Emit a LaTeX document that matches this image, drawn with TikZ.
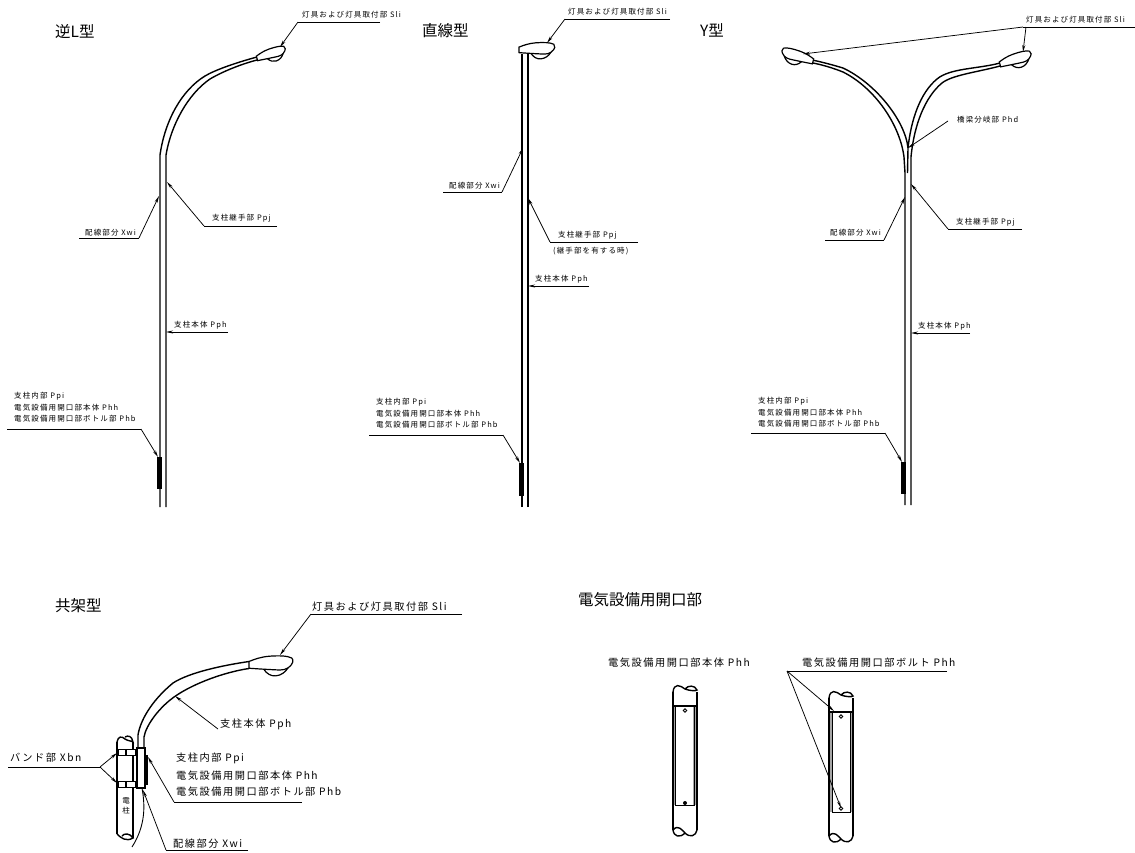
\documentclass[tikz,border=0pt]{standalone}
\usepackage{fontspec}
\usetikzlibrary{arrows.meta}
\setmainfont[LetterSpace=15]{Noto Sans CJK JP}
\newfontfamily\headfont{Noto Sans CJK JP}

\tikzset{
  pole/.style={line width=1.4pt,black},
  tagline/.style={line width=0.9pt,black},
  leader/.style={line width=0.75pt,black,-{Stealth[length=7pt,width=3pt]}},
  smalltag/.style={font=\fontsize{7.5}{7.5}\selectfont,inner sep=0pt,anchor=west},
  bigtag/.style={font=\fontsize{10.2}{10.2}\selectfont,inner sep=0pt,anchor=west},
  headtag/.style={font=\headfont\fontsize{15.5}{15.5}\selectfont,inner sep=0pt,anchor=west},
  lamp/.pic={
    \draw[pole,line width=1.2pt,fill=white] (0,-2.4) .. controls (4,-4) and (8,-5.5) .. (14,-6)
      .. controls (20,-6.4) and (26,-6.4) .. (29,-4.8)
      .. controls (30.5,-3.5) and (30.5,-1) .. (26.5,2)
      .. controls (25,3) and (23,3.4) .. (21,3.4)
      .. controls (15,3.2) and (6,2.6) .. (0,2.2) -- cycle;
    \draw[pole,line width=1.2pt] (10,2.8) .. controls (12,6) and (15,7.6) .. (18,7.4)
      .. controls (22,7.2) and (25,4.5) .. (26.5,2);
  }
}

\begin{document}
\begin{tikzpicture}[x=1pt,y=-1pt]
    \useasboundingbox (0,0) rectangle (1135,852);

    % Titles
    \node[headtag] (titleL) at (55,32) {逆L型};
    \node[headtag] (titleI) at (422,31) {直線型};
    \node[headtag] (titleY) at (700,30) {Y型};
    \node[headtag] (titleK) at (55,606) {共架型};
    \node[headtag] (titleO) at (578,600) {電気設備用開口部};

    % Inverted L pole
    \draw[pole] (160,507) -- (160,155) .. controls (165,120) and (182,90) .. (205,76)
      .. controls (215,70) and (235,63) .. (257,57);
    \draw[pole] (166,507) -- (166,155) .. controls (171,125) and (188,94) .. (210,79)
      .. controls (220,73) and (238,65) .. (257,60);
    \pic[rotate=15] at (257,58.5) {lamp};
    \fill[black] (157,457) rectangle (162,489);

    \node[smalltag] (sliL) at (302,15) {灯具および灯具取付部 Sli};
    \coordinate (sliLa) at (298,22);
    \coordinate (sliLb) at (380,22);
    \coordinate (sliLt) at (280,47);
    \draw[tagline] (sliLb) -- (sliLa);
    \draw[leader] (sliLa) -- (sliLt);

    \node[smalltag] (ppjL) at (212,218) {支柱継手部 Ppj};
    \coordinate (ppjLa) at (204,226);
    \coordinate (ppjLb) at (277,226);
    \coordinate (ppjLt) at (167,182);
    \draw[tagline] (ppjLb) -- (ppjLa);
    \draw[leader] (ppjLa) -- (ppjLt);

    \node[smalltag] (xwiL) at (85,233) {配線部分 Xwi};
    \coordinate (xwiLa) at (79,238);
    \coordinate (xwiLb) at (139,238);
    \coordinate (xwiLt) at (159,196);
    \draw[tagline] (xwiLa) -- (xwiLb);
    \draw[leader] (xwiLb) -- (xwiLt);

    \node[smalltag] (pphL) at (174,325) {支柱本体 Pph};
    \coordinate (pphLb) at (228,332);
    \coordinate (pphLt) at (166,332);
    \draw[leader] (pphLb) -- (pphLt);

    \node[smalltag,align=left] (ppiL) at (14,407) {支柱内部 Ppi\\[3.5pt]電気設備用開口部本体 Phh\\[3.5pt]電気設備用開口部ボトル部 Phb};
    \coordinate (ppiLa) at (7,429);
    \coordinate (ppiLb) at (141,429);
    \coordinate (ppiLt) at (158,457);
    \draw[tagline] (ppiLa) -- (ppiLb);
    \draw[leader] (ppiLb) -- (ppiLt);

    % Straight pole
    \draw[pole] (522,507) -- (522,54);
    \draw[pole] (528,507) -- (528,54);
    \pic[scale=1.2] at (519,50) {lamp};
    \fill[black] (519,463) rectangle (524,496);

    \node[smalltag] (sliI) at (568,12) {灯具および灯具取付部 Sli};
    \coordinate (sliIa) at (565,19);
    \coordinate (sliIb) at (670,19);
    \coordinate (sliIt) at (547,43);
    \draw[tagline] (sliIb) -- (sliIa);
    \draw[leader] (sliIa) -- (sliIt);

    \node[smalltag] (xwiI) at (449,186) {配線部分 Xwi};
    \coordinate (xwiIa) at (443,192);
    \coordinate (xwiIb) at (502,192);
    \coordinate (xwiIt) at (523,148);
    \draw[tagline] (xwiIa) -- (xwiIb);
    \draw[leader] (xwiIb) -- (xwiIt);

    \node[smalltag] (ppjI) at (558,235) {支柱継手部 Ppj};
    \node[smalltag] (noteI) at (553,251) {(継手部を有する時)};
    \coordinate (ppjIa) at (550,242);
    \coordinate (ppjIb) at (638,242);
    \coordinate (ppjIt) at (528,198);
    \draw[tagline] (ppjIb) -- (ppjIa);
    \draw[leader] (ppjIa) -- (ppjIt);

    \node[smalltag] (pphI) at (535,279) {支柱本体 Pph};
    \coordinate (pphIb) at (589,286);
    \coordinate (pphIt) at (528,286);
    \draw[leader] (pphIb) -- (pphIt);

    \node[smalltag,align=left] (ppiI) at (376,413) {支柱内部 Ppi\\[3.5pt]電気設備用開口部本体 Phh\\[3.5pt]電気設備用開口部ボトル部 Phb};
    \coordinate (ppiIa) at (369,435);
    \coordinate (ppiIb) at (503,435);
    \coordinate (ppiIt) at (520,463);
    \draw[tagline] (ppiIa) -- (ppiIb);
    \draw[leader] (ppiIb) -- (ppiIt);

    % Y pole
    \draw[pole] (905,505) -- (905,173) -- (904,157) .. controls (900,125) and (875,88) .. (843,72)
      .. controls (833,68) and (823,65) .. (813,63);
    \draw[pole] (911,505) -- (911,157) .. controls (914,125) and (925,97) .. (942,83)
      .. controls (952,75) and (978,72) .. (1000,66);
    \draw[pole] (907.5,173) -- (908,148) .. controls (905,120) and (875,83) .. (843,68)
      .. controls (833,65) and (822,62) .. (812,60);
    \draw[pole] (908,148) .. controls (911,120) and (920,93) .. (937,79)
      .. controls (950,68) and (978,69) .. (1000,63);
    \pic[rotate=15,scale=1.1] at (1000,64.5) {lamp};
    \pic[xscale=-1,rotate=15,scale=1.1] at (813,61.5) {lamp};
    \fill[black] (901,462) rectangle (906,494);

    \node[smalltag] (sliY) at (1026,20) {灯具および灯具取付部 Sli};
    \coordinate (sliYa) at (1023,27);
    \coordinate (sliYb) at (1135,27);
    \coordinate (sliYc) at (1026,27);
    \coordinate (sliYt) at (803,54);
    \coordinate (sliYu) at (1023,52);
    \draw[tagline] (sliYb) -- (sliYa);
    \draw[leader] (sliYa) -- (sliYt);
    \draw[leader] (sliYc) -- (sliYu);

    \node[smalltag] (phdY) at (957,120) {橋梁分岐部 Phd};
    \coordinate (phdYa) at (948,121);
    \coordinate (phdYt) at (908,148);
    \draw[leader] (phdYa) -- (phdYt);

    \node[smalltag] (ppjY) at (956,222) {支柱継手部 Ppj};
    \coordinate (ppjYa) at (948,229);
    \coordinate (ppjYb) at (1022,229);
    \coordinate (ppjYt) at (911,184);
    \draw[tagline] (ppjYb) -- (ppjYa);
    \draw[leader] (ppjYa) -- (ppjYt);

    \node[smalltag] (xwiY) at (830,233) {配線部分 Xwi};
    \coordinate (xwiYa) at (825,240);
    \coordinate (xwiYb) at (884,240);
    \coordinate (xwiYt) at (905,197);
    \draw[tagline] (xwiYa) -- (xwiYb);
    \draw[leader] (xwiYb) -- (xwiYt);

    \node[smalltag] (pphY) at (918,326) {支柱本体 Pph};
    \coordinate (pphYb) at (970,333);
    \coordinate (pphYt) at (911,333);
    \draw[leader] (pphYb) -- (pphYt);

    \node[smalltag,align=left] (ppiY) at (758,412) {支柱内部 Ppi\\[3.5pt]電気設備用開口部本体 Phh\\[3.5pt]電気設備用開口部ボトル部 Phb};
    \coordinate (ppiYa) at (751,433);
    \coordinate (ppiYb) at (885,433);
    \coordinate (ppiYt) at (902,462);
    \draw[tagline] (ppiYa) -- (ppiYb);
    \draw[leader] (ppiYb) -- (ppiYt);

    % Utility pole
    \draw[pole] (117,742) -- (117,834);
    \draw[pole] (133,742) -- (133,838);
    \draw[pole] (117,742) .. controls (118,736) and (122,736) .. (125,739)
      .. controls (128,741) and (132,741) .. (133,742)
      .. controls (132,736) and (128,735) .. (125,737);
    \draw[pole] (117,834) .. controls (121,838) and (126,842) .. (133,838)
      .. controls (130,833) and (124,833) .. (122,836);
    \node[smalltag,anchor=center,align=center] (poleK) at (126,806) {電\\[3pt]柱};

    % Co-mounted arm
    \draw[pole] (138,748) -- (138,735) .. controls (140,722) and (150,702) .. (173,683)
      .. controls (190,672) and (225,665) .. (249,661.5);
    \draw[pole] (144,748) -- (144,737) .. controls (146,725) and (160,706) .. (177,695)
      .. controls (195,683) and (225,672) .. (249,668.5);
    \pic[scale=1.47] at (249,665) {lamp};
    \draw[pole,line width=1.1pt,fill=white] (137,748) rectangle (145,788);
    \fill[black] (144.5,755) rectangle (148,785);
    \foreach \y in {749,781} {
      \draw[pole,line width=1pt,fill=white] (118,\y) rectangle ++(7,6);
      \draw[pole,line width=1pt,fill=white] (126,\y) rectangle ++(9,6);
    }
    \draw[pole,line width=0.9pt] (142,788) .. controls (145,805) and (146,825) .. (132,847);

    \node[bigtag] (sliK) at (312,607) {灯具および灯具取付部 Sli};
    \coordinate (sliKa) at (311,614);
    \coordinate (sliKb) at (462,614);
    \coordinate (sliKt) at (280,655);
    \draw[tagline] (sliKb) -- (sliKa);
    \draw[leader] (sliKa) -- (sliKt);

    \node[bigtag] (pphK) at (220,724) {支柱本体 Pph};
    \coordinate (pphKa) at (218,729);
    \coordinate (pphKt) at (175,696);
    \draw[leader] (pphKa) -- (pphKt);

    \node[bigtag,align=left] (ppiK) at (176,775) {支柱内部 Ppi\\[6pt]電気設備用開口部本体 Phh\\[6pt]電気設備用開口部ボトル部 Phb};
    \coordinate (ppiKa) at (174,802);
    \coordinate (ppiKb) at (302,802);
    \coordinate (ppiKt) at (148,757);
    \draw[tagline] (ppiKb) -- (ppiKa);
    \draw[leader] (ppiKa) -- (ppiKt);

    \node[bigtag] (xwiK) at (173,844) {配線部分 Xwi};
    \coordinate (xwiKa) at (166,850);
    \coordinate (xwiKb) at (248,850);
    \coordinate (xwiKt) at (143,790);
    \draw[tagline] (xwiKb) -- (xwiKa);
    \draw[leader] (xwiKa) -- (xwiKt);

    \node[bigtag] (xbnK) at (10,758) {バンド部 Xbn};
    \coordinate (xbnKa) at (8,767);
    \coordinate (xbnKb) at (100,767);
    \coordinate (xbnKt) at (117,753);
    \coordinate (xbnKu) at (117,783);
    \draw[tagline] (xbnKa) -- (xbnKb);
    \draw[leader] (xbnKb) -- (xbnKt);
    \draw[leader] (xbnKb) -- (xbnKu);

    % Opening, left view
    \fill[gray!70] (673,706) rectangle (676,805);
    \fill[gray!70] (693,706) rectangle (697,805);
    \draw[pole] (673,692) -- (673,830);
    \draw[pole] (697,692) -- (697,830);
    \draw[pole] (673,692) .. controls (674,683) and (680,685) .. (685,689)
      .. controls (690,691) and (696,691) .. (697,690)
      .. controls (695,685) and (688,685) .. (685,689);
    \draw[pole] (673,830) .. controls (678,824) and (682,830) .. (685,833)
      .. controls (690,838) and (696,836) .. (697,830);
    \draw[pole] (673,830) .. controls (674,837) and (680,838) .. (685,833);
    \draw[pole] (673,706) -- (697,706);
    \draw[pole,line width=1pt] (675.5,706) -- (675.5,805) -- (694,805) -- (694,706);
    \draw[pole,line width=0.9pt] (685,710.5) circle (1.8);
    \fill[black] (685,803) circle (2);

    % Opening, right view
    \fill[gray!70] (829,712) rectangle (832,812);
    \fill[gray!70] (850,712) rectangle (853,812);
    \draw[pole] (829,698) -- (829,836);
    \draw[pole] (853,698) -- (853,836);
    \draw[pole] (829,698) .. controls (830,689) and (836,691) .. (841,695)
      .. controls (846,697) and (852,697) .. (853,696)
      .. controls (851,691) and (844,691) .. (841,695);
    \draw[pole] (829,836) .. controls (834,830) and (838,836) .. (841,839)
      .. controls (846,844) and (852,842) .. (853,836);
    \draw[pole] (829,836) .. controls (830,843) and (836,844) .. (841,839);
    \draw[pole] (829,712) -- (853,712);
    \draw[pole,line width=1pt] (832,712) -- (832,812) -- (850,812) -- (850,712);
    \draw[pole,line width=0.9pt] (841,716.5) circle (1.8);
    \draw[pole,line width=0.9pt] (841,808.5) circle (1.8);

    \node[bigtag] (phhA) at (608,663) {電気設備用開口部本体 Phh};
    \node[bigtag] (phhB) at (802,663) {電気設備用開口部ボルト Phh};
    \coordinate (phhBa) at (787,671);
    \coordinate (phhBb) at (947,671);
    \coordinate (phhBt) at (834,711);
    \coordinate (phhBu) at (841,808);
    \draw[tagline] (phhBb) -- (phhBa);
    \draw[leader] (phhBa) -- (phhBt);
    \draw[leader] (phhBa) -- (phhBu);
\end{tikzpicture}
\end{document}
